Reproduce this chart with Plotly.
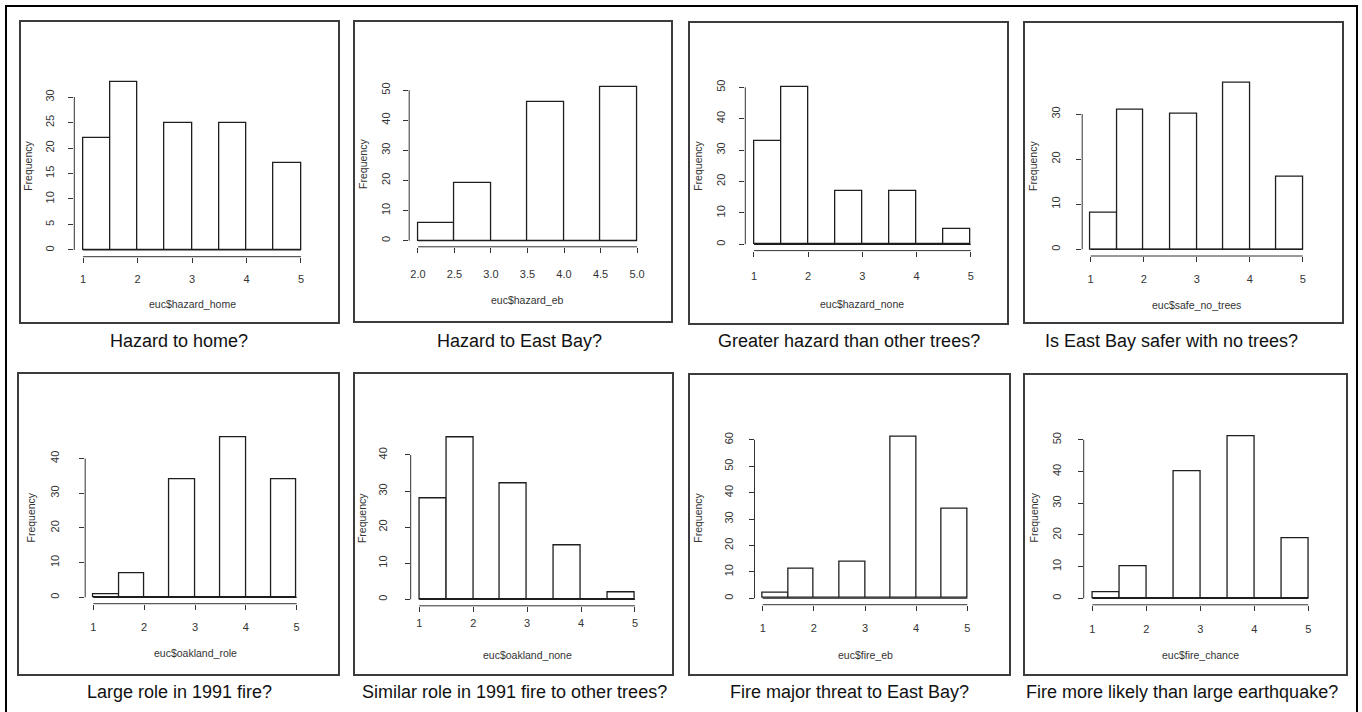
import plotly.graph_objects as go

W, H = 1362, 712

# ---------------- data ----------------
captions = [
    "Hazard to home?", "Hazard to East Bay?", "Greater hazard than other trees?",
    "Is East Bay safer with no trees?", "Large role in 1991 fire?",
    "Similar role in 1991 fire to other trees?", "Fire major threat to East Bay?",
    "Fire more likely than large earthquake?",
]
x_titles = [
    "euc$hazard_home", "euc$hazard_eb", "euc$hazard_none", "euc$safe_no_trees",
    "euc$oakland_role", "euc$oakland_none", "euc$fire_eb", "euc$fire_chance",
]
breaks_1to5 = [1.0, 1.5, 2.0, 2.5, 3.0, 3.5, 4.0, 4.5, 5.0]
breaks_2to5 = [2.0, 2.5, 3.0, 3.5, 4.0, 4.5, 5.0]

hazard_home = [22, 33, 0, 25, 0, 25, 0, 17]
hazard_eb = [6, 19, 0, 46, 0, 51]
hazard_none = [33, 50, 0, 17, 0, 17, 0, 5]
safe_no_trees = [8, 31, 0, 30, 0, 37, 0, 16]
oakland_role = [1, 7, 0, 34, 0, 46, 0, 34]
oakland_none = [28, 45, 0, 32, 0, 15, 0, 2]
fire_eb = [2, 11, 0, 14, 0, 61, 0, 34]
fire_chance = [2, 10, 0, 40, 0, 51, 0, 19]

x_ticks_1to5 = [1, 2, 3, 4, 5]
x_ticktext_1to5 = ["1", "2", "3", "4", "5"]
x_ticks_2to5 = [2.0, 2.5, 3.0, 3.5, 4.0, 4.5, 5.0]
x_ticktext_2to5 = ["2.0", "2.5", "3.0", "3.5", "4.0", "4.5", "5.0"]

y_tick_max = [30, 50, 50, 30, 40, 40, 60, 50]
y_tick_step = [5, 10, 10, 10, 10, 10, 10, 10]

series = [hazard_home, hazard_eb, hazard_none, safe_no_trees,
          oakland_role, oakland_none, fire_eb, fire_chance]
breaks = [breaks_1to5, breaks_2to5] + [breaks_1to5] * 6
xticks = [x_ticks_1to5, x_ticks_2to5] + [x_ticks_1to5] * 6
xticktext = [x_ticktext_1to5, x_ticktext_2to5] + [x_ticktext_1to5] * 6

# ---------------- layout geometry (pixels) ----------------
plot_px = [  # x0, x1, ytop, ybottom of each plot region
    (74.3, 309.7, 75.0, 256.7), (409.2, 645.8, 81.0, 246.8),
    (745.3, 979.4, 81.0, 250.6), (1082.2, 1311.2, 75.8, 256.0),
    (85.2, 304.8, 431.3, 603.7), (410.7, 643.6, 430.4, 605.8),
    (754.5, 975.5, 430.8, 604.7), (1083.7, 1316.9, 430.2, 604.8),
]
box_px = [
    (20, 339, 21, 323), (354, 672, 21, 322), (689, 1008, 22, 324), (1024, 1343, 22, 323),
    (18, 339, 373, 675), (354, 673, 373, 675), (689, 1010, 374, 675), (1024, 1347, 374, 675),
]
caption_px = [(179, 341), (519, 341), (849, 341), (1171, 341),
              (179, 692), (514, 692), (849, 692), (1182, 692)]
freq_x_px = [28, 363, 698, 1033, 30, 362, 698, 1033]
xtitle_y_px = [304, 300, 304, 305, 653, 655, 655, 655]
xlab_standoff = [7, 12, 10, 8, 8, 2, 8, 9]
ylab_standoff = [10, 9, 10, 12, 16, 13, 11, 12]

FONT = "Liberation Sans, Arial, Helvetica, sans-serif"
INK = "#1e1e1e"
TXT = "#333333"


def px2x(p):
    return p / W


def px2y(p):
    return 1 - p / H


fig = go.Figure()
shapes = []
annotations = []
layout_axes = {}

for i in range(8):
    n = "" if i == 0 else str(i + 1)
    b = breaks[i]
    c = series[i]
    centers = [(b[j] + b[j + 1]) / 2 for j in range(len(c))]
    widths = [b[j + 1] - b[j] for j in range(len(c))]
    span = b[-1] - b[0]
    xr = [b[0] - 0.04 * span, b[-1] + 0.04 * span]
    M = max(c)
    yr = [-0.04 * M, 1.04 * M]
    x0, x1, yt, yb = plot_px[i]

    # zero-height bins appear as a baseline in R's hist
    fig.add_trace(go.Scatter(
        x=[b[0], b[-1]], y=[0, 0], mode="lines",
        line=dict(color=INK, width=1.2), hoverinfo="skip", showlegend=False,
        xaxis="x" + n, yaxis="y" + n,
    ))
    fig.add_trace(go.Bar(
        x=centers, y=c, width=widths, base=0,
        marker=dict(color="white", line=dict(color=INK, width=1.3)),
        showlegend=False, xaxis="x" + n, yaxis="y" + n,
    ))

    yticks = list(range(0, y_tick_max[i] + 1, y_tick_step[i]))
    layout_axes["xaxis" + n] = dict(
        domain=[px2x(x0), px2x(x1)], range=xr, anchor="y" + n,
        tickvals=xticks[i], ticktext=xticktext[i],
        ticks="outside", ticklen=5, tickwidth=1, tickcolor=TXT,
        showline=False, showgrid=False, zeroline=False, fixedrange=True,
        tickfont=dict(family=FONT, size=11, color=TXT),
        ticklabelstandoff=xlab_standoff[i],
    )
    layout_axes["yaxis" + n] = dict(
        domain=[px2y(yb), px2y(yt)], range=yr, anchor="x" + n,
        tickvals=yticks, ticktext=[str(v) for v in yticks], tickangle=-90,
        ticks="outside", ticklen=5, tickwidth=1, tickcolor=TXT,
        showline=False, showgrid=False, zeroline=False, fixedrange=True,
        tickfont=dict(family=FONT, size=11, color=TXT),
        ticklabelstandoff=ylab_standoff[i],
    )

    # R-style axis lines spanning only the tick range
    def vx(v, xr=xr, x0=x0, x1=x1):
        return px2x(x0 + (v - xr[0]) / (xr[1] - xr[0]) * (x1 - x0))

    def vy(v, yr=yr, yt=yt, yb=yb):
        return px2y(yb - (v - yr[0]) / (yr[1] - yr[0]) * (yb - yt))

    shapes.append(dict(type="line", xref="paper", yref="paper",
                       x0=vx(xticks[i][0]), x1=vx(xticks[i][-1]),
                       y0=px2y(yb), y1=px2y(yb), line=dict(color=TXT, width=1)))
    shapes.append(dict(type="line", xref="paper", yref="paper",
                       x0=px2x(x0), x1=px2x(x0),
                       y0=vy(yticks[0]), y1=vy(yticks[-1]), line=dict(color=TXT, width=1)))

    # panel box
    bx0, bx1, by0, by1 = box_px[i]
    shapes.append(dict(type="rect", xref="paper", yref="paper",
                       x0=px2x(bx0), x1=px2x(bx1), y0=px2y(by1), y1=px2y(by0),
                       line=dict(color="#3c3c3c", width=2), fillcolor="rgba(0,0,0,0)"))

    # titles
    annotations.append(dict(text=x_titles[i], xref="paper", yref="paper",
                            x=px2x((x0 + x1) / 2), y=px2y(xtitle_y_px[i]),
                            xanchor="center", yanchor="middle", showarrow=False,
                            font=dict(family=FONT, size=10.5, color=TXT)))
    annotations.append(dict(text="Frequency", xref="paper", yref="paper",
                            x=px2x(freq_x_px[i]), y=px2y((yt + yb) / 2), textangle=-90,
                            xanchor="center", yanchor="middle", showarrow=False,
                            font=dict(family=FONT, size=10.5, color=TXT)))
    cx, cy = caption_px[i]
    annotations.append(dict(text=captions[i], xref="paper", yref="paper",
                            x=px2x(cx), y=px2y(cy), xanchor="center", yanchor="middle",
                            showarrow=False, font=dict(family=FONT, size=18, color="#111111")))

# outer frame
shapes.append(dict(type="rect", xref="paper", yref="paper",
                   x0=px2x(6), x1=px2x(1357), y0=px2y(730), y1=px2y(6),
                   line=dict(color="black", width=2), fillcolor="rgba(0,0,0,0)"))

fig.update_layout(
    width=W, height=H, margin=dict(l=0, r=0, t=0, b=0),
    paper_bgcolor="white", plot_bgcolor="white",
    shapes=shapes, annotations=annotations, showlegend=False,
    bargap=0, **layout_axes,
)

fig.write_html("out.html", config={"displayModeBar": False},
               post_script="document.body.style.margin='0';document.body.style.overflow='hidden';")
